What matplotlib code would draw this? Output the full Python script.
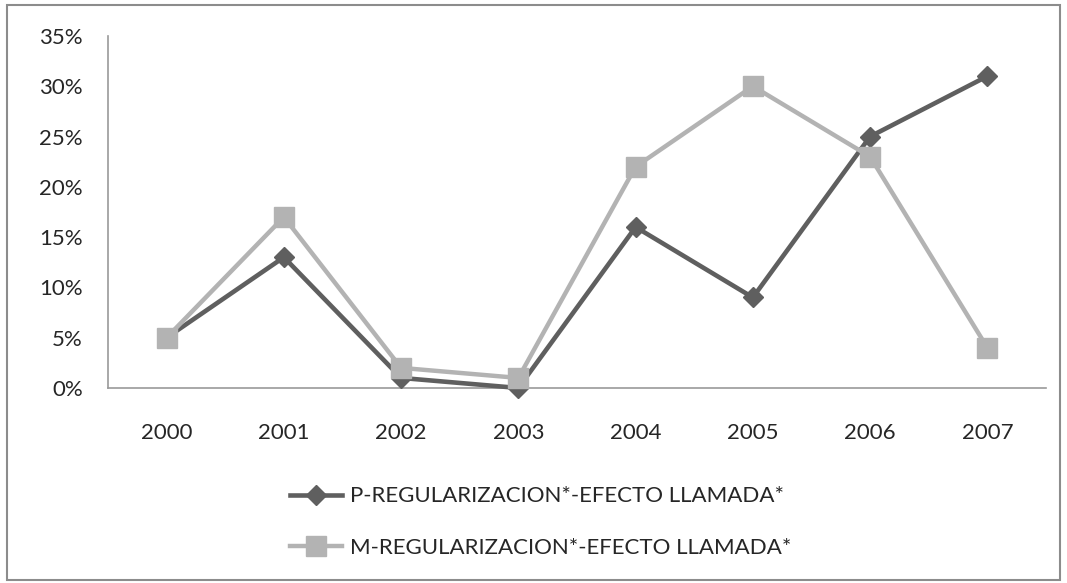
import matplotlib
matplotlib.use("Agg")
import matplotlib.pyplot as plt
from matplotlib.ticker import FuncFormatter
from matplotlib.patches import Rectangle

years = ["2000", "2001", "2002", "2003", "2004", "2005", "2006", "2007"]
p_values = [5, 13, 1, 0, 16, 9, 25, 31]
m_values = [5, 17, 2, 1, 22, 30, 23, 4]
p_label = "P-REGULARIZACION*-EFECTO LLAMADA*"
m_label = "M-REGULARIZACION*-EFECTO LLAMADA*"
y_ticks = [0, 5, 10, 15, 20, 25, 30, 35]

plt.rcParams['font.family'] = ['Lato', 'DejaVu Sans']

fig = plt.figure(figsize=(10.67, 5.83), dpi=100)
ax = fig.add_axes([0.1012, 0.3345, 0.8791, 0.6038])

x = list(range(len(years)))
ax.plot(x, p_values, color="#5f5f5f", lw=3.3, marker="D", ms=10,
        label=p_label, zorder=3, clip_on=False)
ax.plot(x, m_values, color="#b3b3b3", lw=3.2, marker="s", ms=15,
        label=m_label, zorder=4, clip_on=False)

ax.set_xlim(-0.5, len(years) - 0.5)
ax.set_ylim(0, 35)
ax.set_yticks(y_ticks)
ax.yaxis.set_major_formatter(FuncFormatter(lambda v, _: f"{int(v)}%"))
ax.set_xticks(x)
ax.set_xticklabels(years)
ax.tick_params(axis="both", length=0, labelsize=16, colors="#262626")
ax.tick_params(axis="y", pad=18)
ax.tick_params(axis="x", pad=25)
for s in ["top", "right"]:
    ax.spines[s].set_visible(False)
for s in ["left", "bottom"]:
    ax.spines[s].set_color("#9a9a9a")
    ax.spines[s].set_linewidth(1.2)
    ax.spines[s].set_zorder(2)

leg = fig.legend(loc="center", bbox_to_anchor=(0.507, 0.1046), ncol=1,
                 frameon=False, fontsize=16, numpoints=1, handlelength=2.34,
                 labelspacing=1.4, handletextpad=0.36)
for t in leg.get_texts():
    t.set_color("#262626")

fig.patches.append(Rectangle((0.0066, 0.006), 0.987, 0.985, transform=fig.transFigure,
                             fill=False, edgecolor="#8c8c8c", lw=1.5))

fig.savefig("out.png", dpi=100)
